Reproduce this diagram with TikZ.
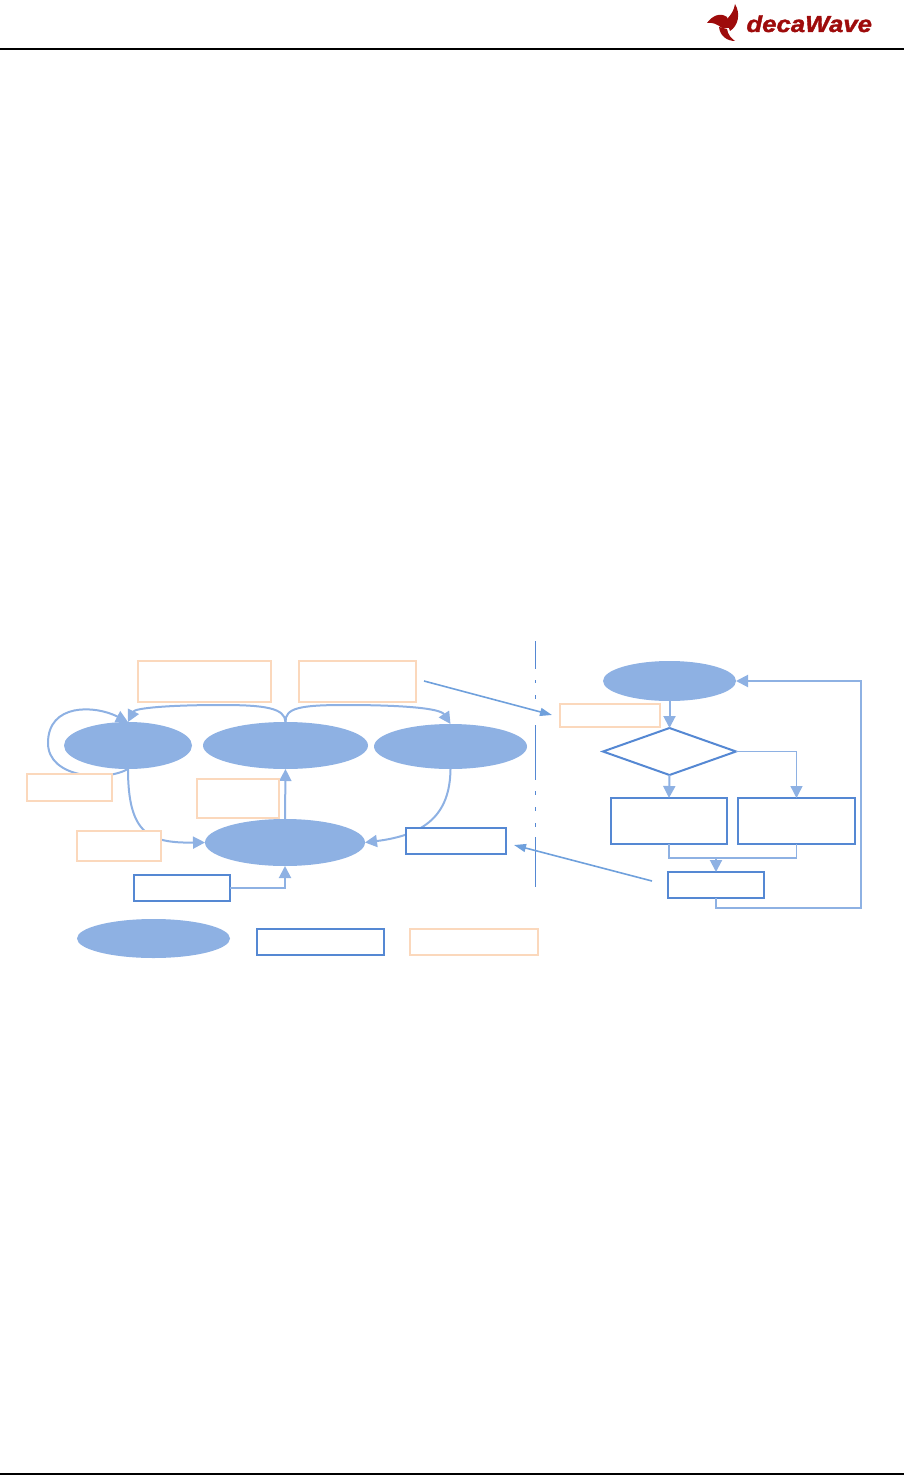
\documentclass[tikz,border=0pt]{standalone}
\usepackage{fontspec}
\newfontfamily\logofont{Liberation Sans}[BoldItalicFeatures={FakeBold=1.5}]
\usetikzlibrary{arrows.meta,shapes.geometric}
\definecolor{ellblue}{HTML}{8EB1E3}
\definecolor{boxblue}{HTML}{5588D3}
\definecolor{boxorange}{HTML}{FBD8BC}
\definecolor{logored}{HTML}{9E0B0B}
\definecolor{linkblue}{HTML}{6FA0DC}
\tikzset{
    stateell/.style={ellipse, fill=ellblue, inner sep=0pt, outer sep=0pt},
    eventbox/.style={rectangle, draw=boxorange, fill=white, line width=1pt, inner sep=0pt, outer sep=0pt},
    actionbox/.style={rectangle, draw=boxblue, fill=white, line width=1pt, inner sep=0pt, outer sep=0pt},
    choicebox/.style={diamond, draw=boxblue, fill=white, line width=1pt, inner sep=0pt, outer sep=0pt},
    flowline/.style={draw=ellblue, line width=1pt, -{Triangle[length=6pt,width=6pt]}},
    thinflow/.style={draw=ellblue, line width=0.7pt, -{Triangle[length=6pt,width=6pt]}},
    plainline/.style={draw=ellblue, line width=0.8pt},
    linkline/.style={draw=linkblue, line width=0.8pt, -{Triangle[length=6pt,width=4pt]}}
}
\begin{document}
\begin{tikzpicture}[x=0.5pt,y=-0.5pt]
    \useasboundingbox (0,0) rectangle (904,1476);

    % header and footer
    \draw[black, line width=0.6pt] (0,49) -- (904,49);
    \draw[black, line width=0.6pt] (0,1474) -- (904,1474);

    % logo
    \fill[logored] (707,23) .. controls (712,16) and (720,12) .. (727,17) -- (730,28) -- (722,28) .. controls (717,24) and (712,22) .. cycle;
    \fill[logored] (735,4) .. controls (734,10) and (732,14) .. (726,20) -- (730,31) .. controls (738,26) and (741,14) .. cycle;
    \fill[logored] (719,27) -- (727,29) .. controls (728,35) and (731,38) .. (735,41) .. controls (727,41) and (720,36) .. cycle;
    \node[anchor=base west, inner sep=0pt, text=logored, transform shape, xscale=1.12, font=\logofont\bfseries\itshape\fontsize{11.5}{13}\selectfont] (logotext) at (746,32) {decaWave};

    % states
    \node[stateell, minimum width=64pt, minimum height=23.5pt] (stateA) at (128,745.5) {};
    \node[stateell, minimum width=82.5pt, minimum height=23.5pt] (stateB) at (285.5,745.5) {};
    \node[stateell, minimum width=76.5pt, minimum height=22.5pt] (stateC) at (450.5,746.5) {};
    \node[stateell, minimum width=80pt, minimum height=23.5pt] (stateD) at (285,842.5) {};
    \node[stateell, minimum width=66.5pt, minimum height=20pt] (stateTop) at (669.5,681) {};

    % flow nodes on the right
    \node[choicebox, minimum width=66.5pt, minimum height=23.5pt] (choice) at (669.5,751.5) {};
    \node[actionbox, minimum width=58pt, minimum height=23pt] (actLeft) at (669,821) {};
    \node[actionbox, minimum width=58.5pt, minimum height=23pt] (actRight) at (796.5,821) {};
    \node[actionbox, minimum width=48pt, minimum height=13pt] (actLast) at (716,885) {};
    \coordinate (merge) at (716,858);
    \coordinate (back) at (861,908);

    % action on the left
    \node[actionbox, minimum width=48pt, minimum height=13pt] (actIn) at (182,888) {};

    % connectors on the left
    \draw[flowline] (stateA.south) .. controls (105,782) and (48,778) .. (48,743)
        .. controls (48,703) and (95,705) .. (stateA.north);
    \draw[flowline] (stateB.north) .. controls (285,708) and (265,705) .. (221,705)
        .. controls (170,705) and (135,708) .. (stateA.north);
    \draw[flowline] (stateB.north) .. controls (285,708) and (300,705) .. (345,705)
        .. controls (400,705) and (440,708) .. (stateC.north);
    \draw[flowline] (stateA.south) .. controls (128,835) and (150,843) .. (stateD.west);
    \draw[flowline] (stateC.south) .. controls (450,815) and (425,835) .. (stateD.east);
    \draw[flowline] (stateD.north) -- (stateB.south);
    \draw[flowline] (actIn.east) -| (stateD.south);

    % connectors on the right
    \draw[flowline] (stateTop.south) -- (choice.north);
    \draw[flowline] (choice.south) -- (actLeft.north);
    \draw[thinflow] (choice.east) -| (actRight.north);
    \draw[plainline] (actLeft.south) |- (merge);
    \draw[plainline] (actRight.south) |- (merge);
    \draw[flowline] (merge) -- (actLast.north);
    \draw[flowline] (actLast.south) |- (back) -- (back |- stateTop.east) -- (stateTop.east);

    % divider
    \coordinate (divTop) at (535,641);
    \coordinate (divBot) at (535,887);
    \draw[boxblue, line width=0.5pt, dash pattern=on 14pt off 5.5pt on 1.5pt off 6pt on 2pt off 13pt on 27.5pt off 5.5pt on 2pt off 6pt on 2pt off 6pt on 2pt off 5pt on 25pt] (divTop) -- (divBot);

    % event boxes on top of the lines
    \node[eventbox, minimum width=66.5pt, minimum height=20.5pt] (evtOne) at (204.5,681.5) {};
    \node[eventbox, minimum width=58.5pt, minimum height=20.5pt] (evtTwo) at (357.5,681.5) {};
    \node[eventbox, minimum width=42.5pt, minimum height=13.5pt] (evtThree) at (69.5,787.5) {};
    \node[eventbox, minimum width=41pt, minimum height=19.5pt] (evtFour) at (238,798.5) {};
    \node[eventbox, minimum width=42pt, minimum height=15pt] (evtFive) at (119,846) {};
    \node[eventbox, minimum width=50pt, minimum height=11.5pt] (evtSix) at (610,715.5) {};
    \node[actionbox, minimum width=50pt, minimum height=13pt] (actOut) at (456,841) {};

    % links across the divider
    \coordinate (linkA) at (424,681);
    \coordinate (linkB) at (552,715);
    \coordinate (linkC) at (652,881);
    \coordinate (linkD) at (514,845);
    \draw[linkline] (linkA) -- (linkB);
    \draw[linkline] (linkC) -- (linkD);

    % legend
    \node[stateell, minimum width=76.5pt, minimum height=19.5pt] (legState) at (153.5,938.5) {};
    \node[actionbox, minimum width=63.5pt, minimum height=13pt] (legAction) at (320.5,942) {};
    \node[eventbox, minimum width=64pt, minimum height=13pt] (legEvent) at (474,942) {};

\end{tikzpicture}
\end{document}
